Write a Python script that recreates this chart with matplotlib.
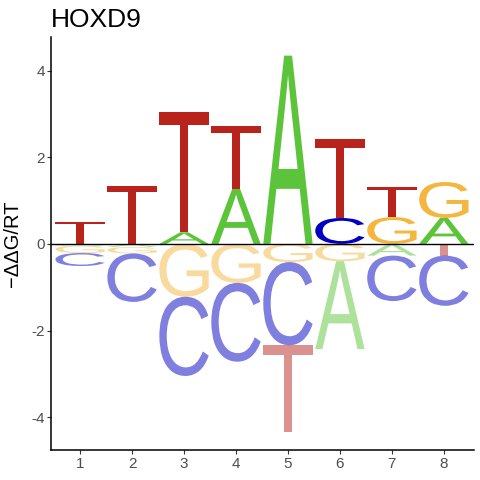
import matplotlib
matplotlib.use("Agg")
import matplotlib.pyplot as plt
from matplotlib.textpath import TextPath
from matplotlib.patches import PathPatch
from matplotlib.font_manager import FontProperties
from matplotlib.transforms import Affine2D

plt.rcParams['font.family'] = ['Liberation Sans', 'DejaVu Sans']
plt.rcParams['axes.unicode_minus'] = False

positions = [1, 2, 3, 4, 5, 6, 7, 8]
ddg_A = [-0.04, -0.07, 0.27, 1.27, 4.35, -2.03, -0.27, 0.60]
ddg_C = [-0.30, -1.12, -1.83, -1.82, -1.92, 0.60, -1.05, -1.16]
ddg_G = [-0.17, -0.15, -1.22, -0.90, -0.42, -0.40, 0.62, 0.83]
ddg_T = [0.51, 1.34, 2.78, 1.45, -2.01, 1.83, 0.70, -0.27]
title = "HOXD9"

base_colors = {'A': '#5CC43A', 'C': '#0000C0', 'G': '#F4B63E', 'T': '#B8241C'}
font = FontProperties(family='Liberation Sans')
letter_width = 0.95


def draw_letter(ax, letter, xc, y0, h, color, alpha):
    tp = TextPath((0, 0), letter, size=1, prop=font)
    bb = tp.get_extents()
    tr = (Affine2D().translate(-bb.x0, -bb.y0)
          .scale(letter_width / bb.width, h / bb.height)
          .translate(xc - letter_width / 2, y0))
    path = tr.transform_path(tp)
    ax.add_patch(PathPatch(path, facecolor=color, edgecolor='none', alpha=alpha))


fig = plt.figure(figsize=(4.8, 4.8), dpi=100)
ax = fig.add_axes([0.10625, 0.0625, 0.88125, 0.8604])

table = {'A': ddg_A, 'C': ddg_C, 'G': ddg_G, 'T': ddg_T}
for i, pos in enumerate(positions):
    vals = [(b, table[b][i]) for b in 'ACGT']
    # stack: smallest letter next to the zero line
    pos_vals = sorted([v for v in vals if v[1] > 0], key=lambda v: v[1])
    neg_vals = sorted([v for v in vals if v[1] < 0], key=lambda v: -v[1])
    y = 0
    for b, v in pos_vals:
        draw_letter(ax, b, pos, y, v, base_colors[b], 1.0)
        y += v
    y = 0
    for b, v in neg_vals:
        draw_letter(ax, b, pos, y + v, -v, base_colors[b], 0.5)
        y += v

ax.axhline(0, color='black', lw=1.0)
ax.set_xlim(0.44, 8.58)
ax.set_ylim(-4.76, 4.78)
ax.set_xticks(positions)
ax.set_yticks([-4, -2, 0, 2, 4])
for side in ['top', 'right']:
    ax.spines[side].set_visible(False)
for side in ['left', 'bottom']:
    ax.spines[side].set_linewidth(1.1)
ax.tick_params(axis='both', length=2.8, width=0.8, color='#333333',
               labelcolor='#4D4D4D', labelsize=11)
ax.tick_params(axis='x', pad=2.5)
ax.tick_params(axis='y', pad=1.5)
ax.set_ylabel('\u2212\u0394\u0394G/RT', fontsize=14.5, labelpad=7)
ax.set_title(title, loc='left', fontsize=19, pad=7)

fig.savefig('out.png', dpi=100)
